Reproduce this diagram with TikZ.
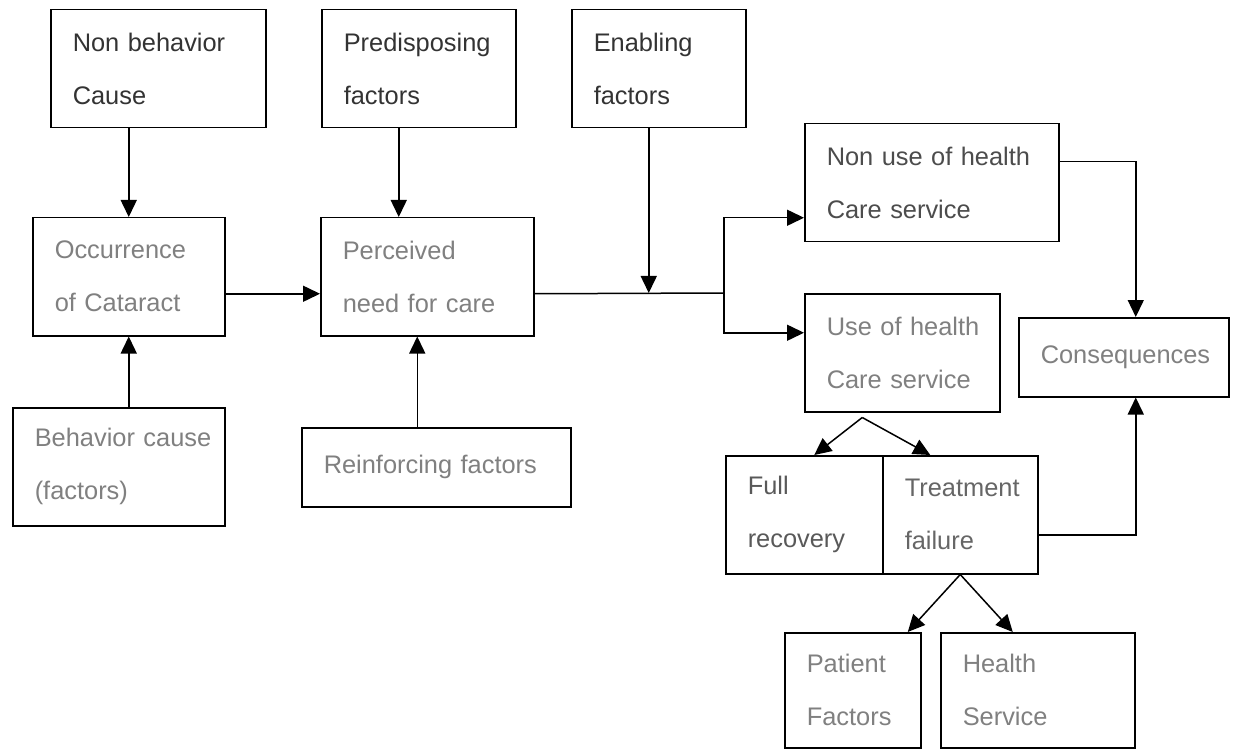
\documentclass[tikz,border=0pt]{standalone}
\usepackage{fontspec}
\setmainfont{Liberation Sans}
\usetikzlibrary{arrows.meta}

\begin{document}
\begin{tikzpicture}[x=0.5pt,y=-0.5pt,line width=0.75pt,
  box/.style={draw,anchor=north west,align=left,inner xsep=11pt,
    font=\fontsize{12.7}{26.5}\selectfont},
  dark/.style={text=black!80},
  pale/.style={text=black!50},
  arr/.style={-{Triangle[length=8.5pt,width=8pt]}}]
  \useasboundingbox (0,0) rectangle (1234,748);

  \node[box,dark,text width=85.5pt,minimum height=59pt] (NB) at (50,9) {Non~behavior\\Cause};
  \node[box,dark,text width=75pt,minimum height=59pt] (PF) at (321,9) {Predisposing\\factors};
  \node[box,dark,text width=65pt,minimum height=59pt] (EF) at (571,9) {Enabling\\factors};
  \node[box,pale,text width=74pt,minimum height=59pt] (OC) at (32,217) {Occurrence\\of~Cataract};
  \node[box,pale,text width=84.5pt,minimum height=59pt] (PN) at (320,217) {Perceived\\need~for~care};
  \node[box,pale,text width=84pt,minimum height=59pt] (BC) at (12,407) {Behavior~cause\\(factors)};
  \node[box,pale,text width=112.5pt,minimum height=39.5pt] (RF) at (301,427) {Reinforcing~factors};
  \node[box,text=black!70,text width=105pt,minimum height=59pt] (NU) at (804,123) {Non~use~of~health\\Care~service};
  \node[box,pale,text width=75.5pt,minimum height=59pt] (US) at (804,293) {Use~of~health\\Care~service};
  \node[box,pale,text width=83pt,minimum height=39.5pt] (CQ) at (1018,317) {\mbox{Consequences}};
  \node[box,text=black!65,text width=56.5pt,minimum height=59pt] (FR) at (725,455) {Full\\recovery};
  \node[box,text=black!60,text width=55.5pt,minimum height=59pt] (TF) at (882,455) {\mbox{Treatment}\\failure};
  \node[box,pale,text width=46pt,minimum height=57.5pt] (PT) at (784,632) {Patient\\Factors};
  \node[box,pale,text width=75pt,minimum height=57.5pt] (HS) at (940,632) {Health\\Service};

  \coordinate (S) at (724,293);
  \coordinate (UF) at ([xshift=-20pt,yshift=-2.5pt]US.south);

  \draw[arr] (NB.south -| OC.north) -- (OC.north);
  \draw[arr] ([xshift=-10pt]PF.south) -- ([xshift=-10pt]PF.south |- PN.north);
  \draw[arr] (OC.south |- BC.north) -- (OC.south);
  \draw[arr] ([xshift=-5pt]PN.south |- RF.north) -- ([xshift=-5pt]PN.south);
  \draw[arr] ([yshift=-8.5pt]OC.east) -- ([yshift=-8.5pt]OC.east -| PN.west);
  \draw ([yshift=-8.5pt]PN.east) -- (S);
  \draw[arr] ([xshift=-5pt]EF.south) -- ([xshift=-5pt]EF.south |- S);
  \draw[arr] (S) |- ([yshift=-17.5pt]NU.west);
  \draw[arr] (S) |- ([yshift=10pt]US.west);
  \draw[arr] ([yshift=10.5pt]NU.east) -| ([xshift=6pt]CQ.north);
  \draw[arr] ([yshift=-10pt]TF.east) -| ([xshift=6pt]CQ.south);
  \draw[arr] (UF) -- ([xshift=5pt]FR.north);
  \draw[arr] (UF) -- ([xshift=-15pt]TF.north);
  \draw[arr] (TF.south) -- ([xshift=27.5pt]PT.north);
  \draw[arr] (TF.south) -- ([xshift=-12.5pt]HS.north);
\end{tikzpicture}
\end{document}
